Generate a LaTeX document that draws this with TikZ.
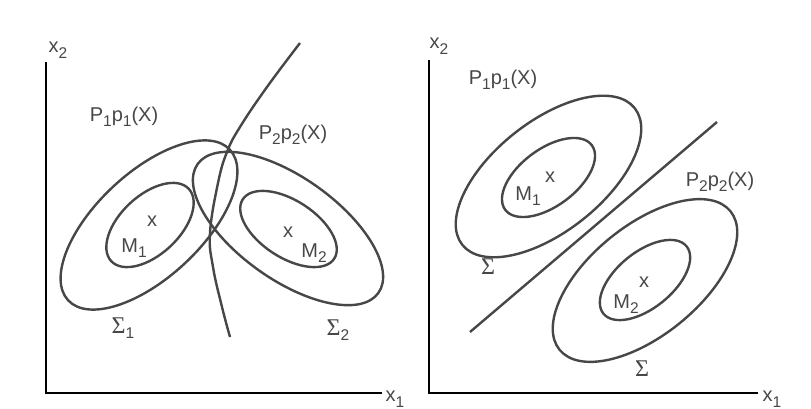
\documentclass[tikz,border=0pt]{standalone}
\usepackage{fontspec}
\setmainfont{Liberation Sans}
\newfontfamily\sigmafont{Liberation Serif}
\definecolor{inkgray}{gray}{0.28}
\newcommand{\lowsub}[1]{\raisebox{-5.5pt}{\fontsize{15.5pt}{16pt}\selectfont #1}}
\newcommand{\Sig}{{\sigmafont\fontsize{24pt}{24pt}\selectfont Σ}}

\begin{document}
\begin{tikzpicture}[
  x=1pt, y=-1pt,
  contour/.style={draw=inkgray, line width=2.4pt},
  axisline/.style={draw=black, line width=2pt},
  lbl/.style={font=\fontsize{20pt}{22pt}\selectfont, inner sep=0pt, text=inkgray}
]
\useasboundingbox (0,0) rectangle (811,409);

% left panel: two classes, unequal covariances
\coordinate (Lo) at (46,393);
\coordinate (Ly) at (46,62);
\coordinate (Lx) at (382,393);
\draw[axisline] (Ly) -- (Lo) -- (Lx);
\node[lbl] (Lx2) at (58,50) {x\lowsub{2}};
\node[lbl] (Lx1) at (395,399) {x\lowsub{1}};

\draw[contour, rotate around={43:(149,225)}] (149,225) ellipse [x radius=110.5pt, y radius=52.5pt];
\draw[contour, rotate around={43:(150,225)}] (150,225) ellipse [x radius=53pt, y radius=29.5pt];
\draw[contour, rotate around={-35.5:(288,228.5)}] (288,228.5) ellipse [x radius=111pt, y radius=51pt];
\draw[contour, rotate around={-33:(288.5,229)}] (288.5,229) ellipse [x radius=54.5pt, y radius=28.5pt];

% quadratic boundary
\draw[contour] plot[smooth, tension=0.7] coordinates
  {(300,43) (267,87) (240,127) (227,152) (218,183) (210,233) (213,267) (222,307) (230,337)};

\node[lbl] (P1L) at (124,117) {P\lowsub{1}p\lowsub{1}(X)};
\node[lbl] (P2L) at (293,135) {P\lowsub{2}p\lowsub{2}(X)};
\node[lbl] (c1L) at (152,221) {x};
\node[lbl] (M1L) at (134,248) {M\lowsub{1}};
\node[lbl] (c2L) at (288,232) {x};
\node[lbl] (M2L) at (314,253) {M\lowsub{2}};
\node[lbl] (S1L) at (123,328) {\Sig\lowsub{1}};
\node[lbl] (S2L) at (338,330) {\Sig\lowsub{2}};

% right panel: two classes, equal covariance
\coordinate (Ro) at (429,393);
\coordinate (Ry) at (429,60);
\coordinate (Rx) at (758,393);
\draw[axisline] (Ry) -- (Ro) -- (Rx);
\node[lbl] (Rx2) at (439,46) {x\lowsub{2}};
\node[lbl] (Rx1) at (772,399) {x\lowsub{1}};

\draw[contour, rotate around={38.4:(548.5,176.5)}] (548.5,176.5) ellipse [x radius=110pt, y radius=55pt];
\draw[contour, rotate around={36.7:(548.5,177.5)}] (548.5,177.5) ellipse [x radius=54pt, y radius=28.5pt];
\draw[contour, rotate around={39:(645,280.5)}] (645,280.5) ellipse [x radius=110pt, y radius=55pt];
\draw[contour, rotate around={39:(645,280)}] (645,280) ellipse [x radius=53.5pt, y radius=28pt];

% linear boundary
\coordinate (Ba) at (470,332);
\coordinate (Bb) at (717,122);
\draw[contour] (Ba) -- (Bb);

\node[lbl] (P1R) at (503,80) {P\lowsub{1}p\lowsub{1}(X)};
\node[lbl] (P2R) at (720,182) {P\lowsub{2}p\lowsub{2}(X)};
\node[lbl] (c1R) at (550,177) {x};
\node[lbl] (M1R) at (528,196) {M\lowsub{1}};
\node[lbl] (c2R) at (644,282) {x};
\node[lbl] (M2R) at (626,304) {M\lowsub{2}};
\node[lbl] (S3R) at (488,267) {\Sig};
\node[lbl] (S4R) at (642,369) {\Sig};
\end{tikzpicture}
\end{document}
